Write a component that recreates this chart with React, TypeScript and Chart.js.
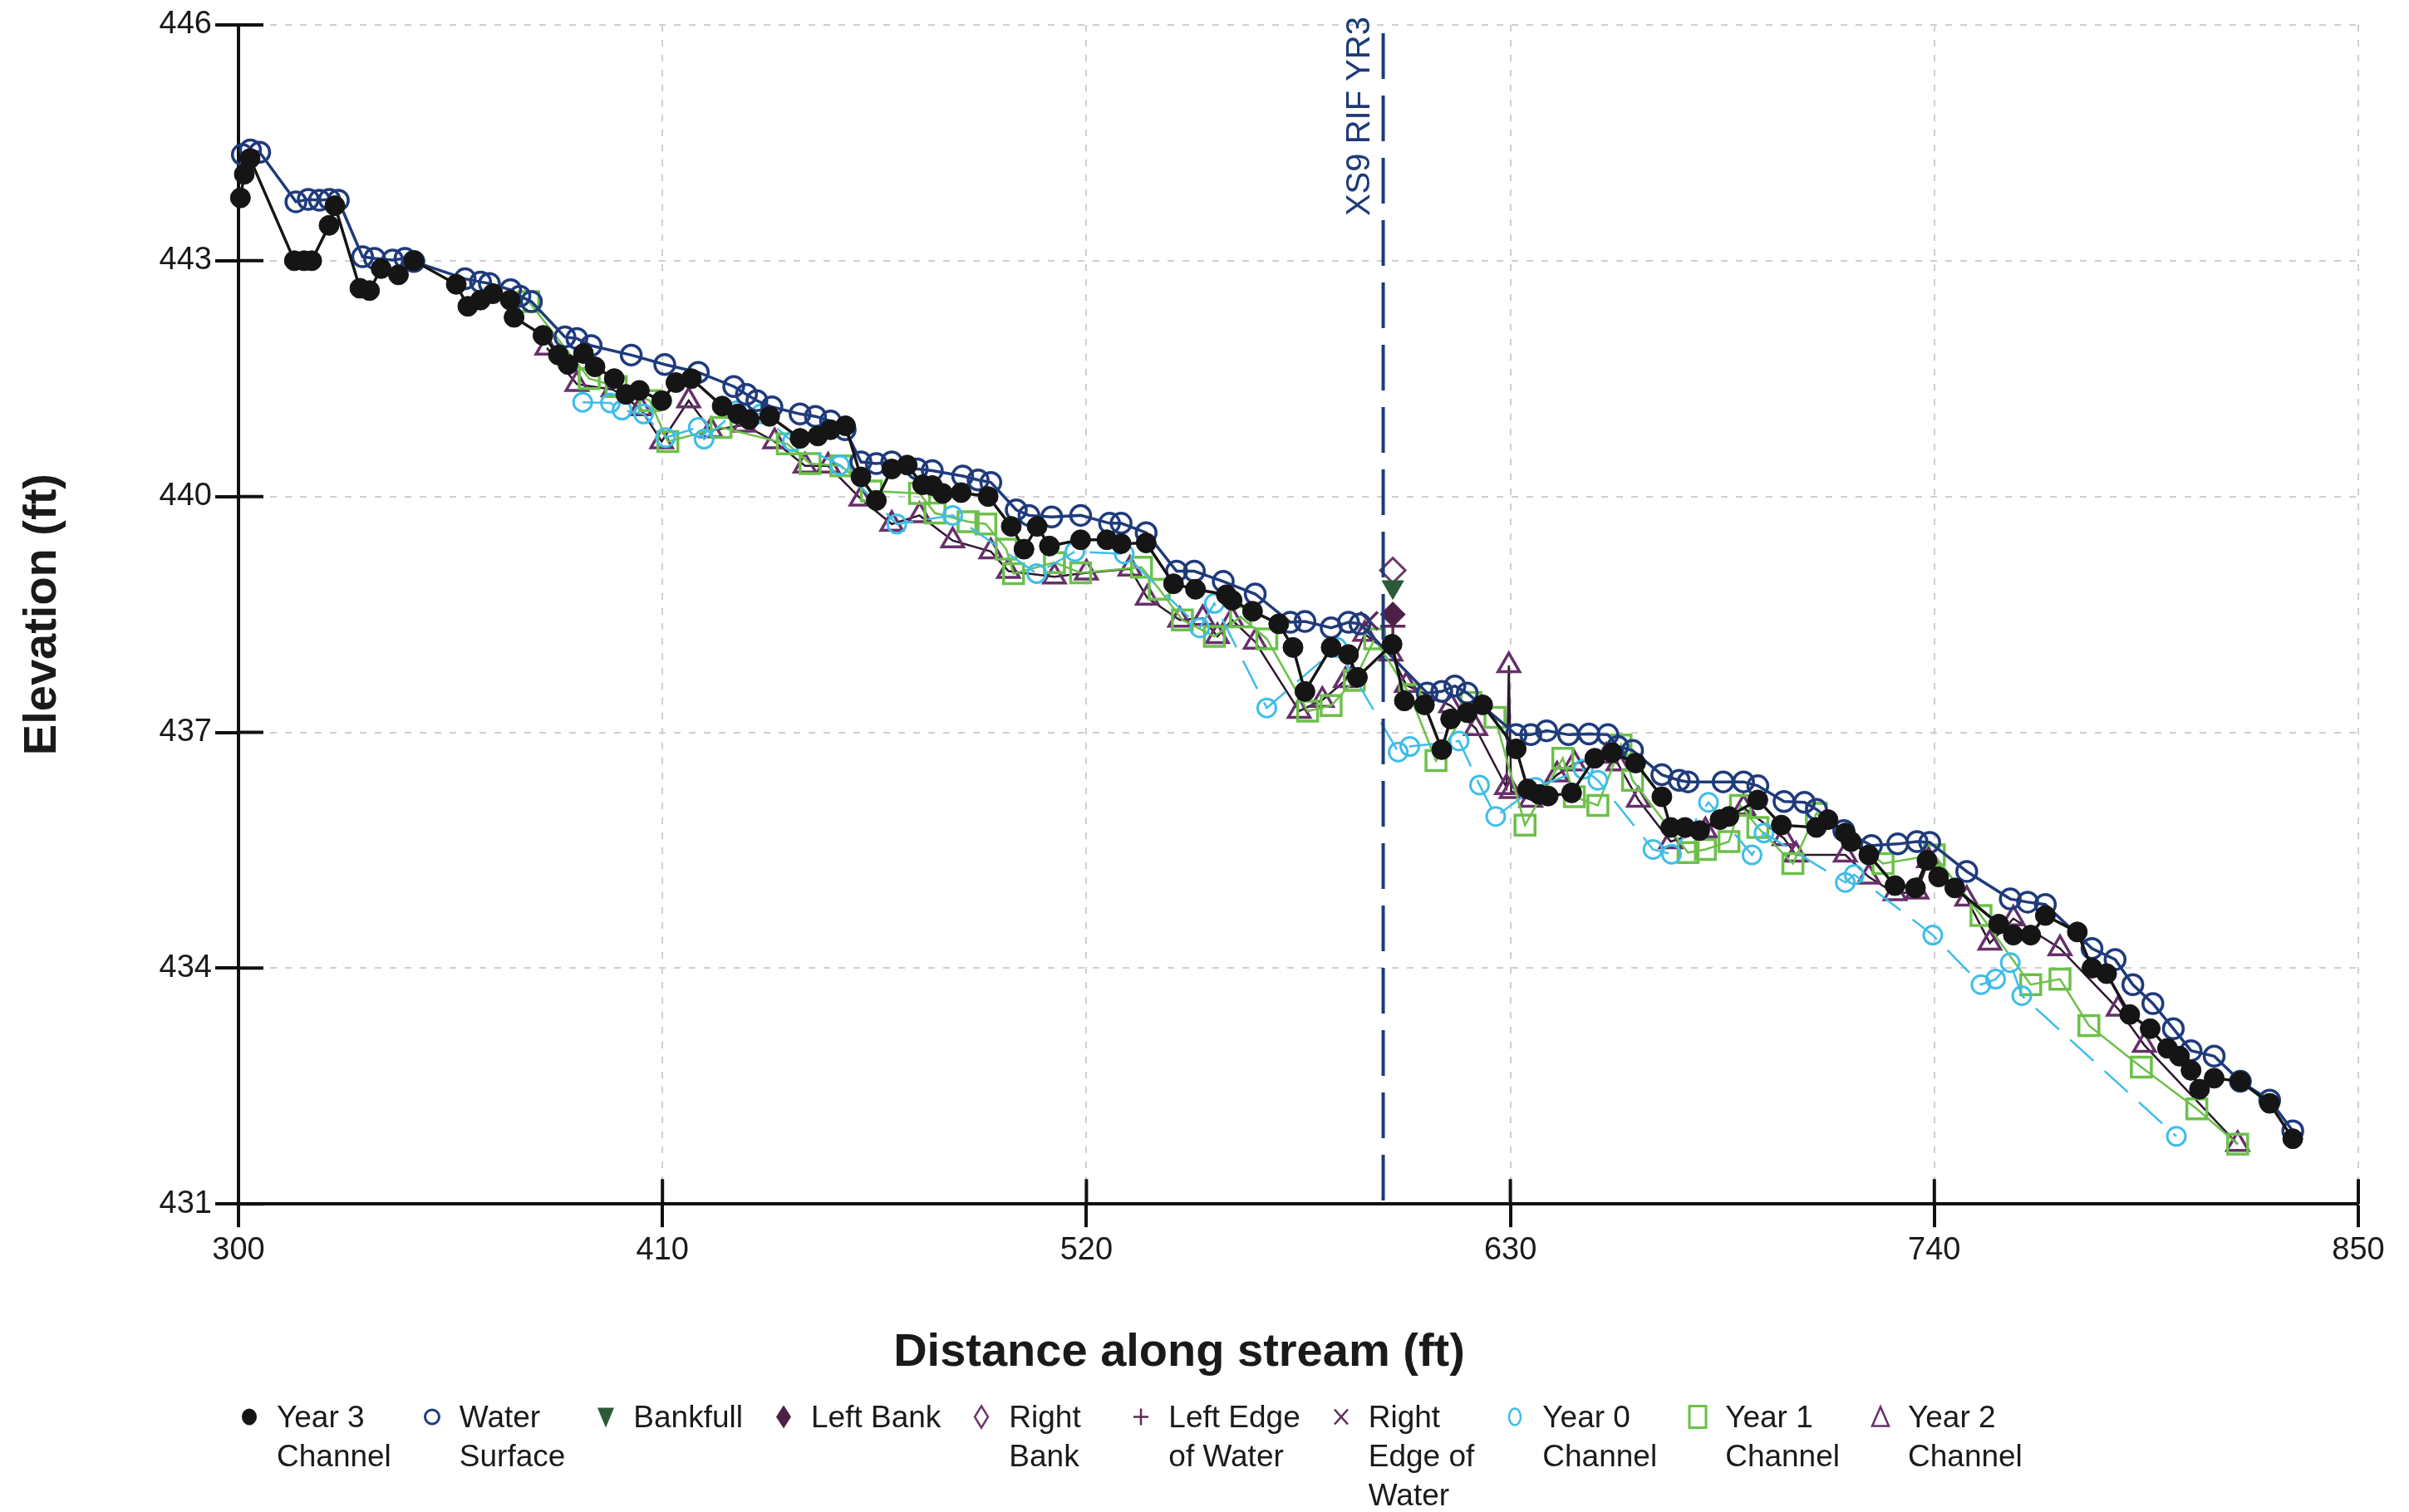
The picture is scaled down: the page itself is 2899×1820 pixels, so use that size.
import React, { useEffect, useRef } from "react";
import { Chart, registerables } from "chart.js";

Chart.register(...registerables);

const FONT = '"Liberation Sans", Arial, Helvetica, sans-serif';

// ---------- axis ----------
const X_MIN = 300;
const X_MAX = 850;
const X_STEP = 110;
const Y_MIN = 431;
const Y_MAX = 446;
const Y_STEP = 3;
const X_TITLE = "Distance along stream (ft)";
const Y_TITLE = "Elevation (ft)";

// ---------- cross-section marker ----------
const XS_STATION = 597;
const XS_LABEL = "XS9 RIF YR3";

// ---------- series (distance ft, elevation ft) ----------
const year3Channel: [number, number][] = [
  [300.5, 443.8], [301.5, 444.1], [303, 444.3], [314.5, 443.0], [317, 443.0], [319, 443.0],
  [323.5, 443.45], [325, 443.7], [331.5, 442.65], [334, 442.62], [337, 442.9], [341.5, 442.82],
  [345.5, 443.0], [356.5, 442.7], [359.5, 442.42], [362.8, 442.5], [366, 442.58], [370.5, 442.5],
  [371.5, 442.28], [379, 442.05], [383, 441.8], [385.5, 441.68], [389.5, 441.82], [392.5, 441.65],
  [397.5, 441.5], [400.5, 441.3], [404, 441.35], [409.8, 441.22], [413.5, 441.45], [417.5, 441.5],
  [425.5, 441.15], [429.5, 441.05], [432.5, 440.98], [437.8, 441.02], [445.7, 440.74], [450.3, 440.77],
  [453.6, 440.85], [457.5, 440.9], [461.5, 440.25], [465.5, 439.95], [469.5, 440.35], [473.5, 440.4],
  [477.5, 440.15], [480, 440.14], [482.7, 440.04], [487.5, 440.05], [494.5, 440.0], [500.5, 439.62],
  [503.8, 439.33], [507.2, 439.62], [510.4, 439.37], [518.5, 439.45], [525.3, 439.45], [529, 439.4],
  [535.5, 439.41], [542.6, 438.89], [548.3, 438.82], [556.3, 438.75], [557.8, 438.68], [563.1, 438.54],
  [569.9, 438.38], [573.6, 438.08], [576.7, 437.52], [583.5, 438.08], [588, 437.99], [590.3, 437.7],
  [599.3, 438.12], [602.5, 437.4], [607.7, 437.35], [612.2, 436.78], [614.5, 437.17], [618.8, 437.25],
  [622.8, 437.35], [631.5, 436.79], [634.5, 436.28], [637.5, 436.21], [639.8, 436.19], [645.9, 436.23],
  [651.9, 436.67], [656.4, 436.74], [662.5, 436.61], [669.3, 436.18], [671.6, 435.79], [675.3, 435.79],
  [679.1, 435.75], [684.4, 435.89], [686.7, 435.93], [694.2, 436.14], [700.3, 435.82], [709.4, 435.79],
  [712.4, 435.89], [716.9, 435.72], [718.4, 435.61], [723, 435.44], [729.8, 435.05], [735.1, 435.02],
  [738.1, 435.37], [741.1, 435.16], [745.3, 435.02], [756.7, 434.56], [760.5, 434.42], [765, 434.42],
  [768.8, 434.67], [777.1, 434.46], [780.9, 434.0], [784.7, 433.93], [790.7, 433.41], [796, 433.23],
  [800.5, 432.98], [803.6, 432.88], [806.6, 432.7], [808.8, 432.46], [812.6, 432.6], [819.4, 432.56],
  [827, 432.28], [833, 431.83],
];

const waterSurface: [number, number][] = [
  [301, 444.35], [303.1, 444.41], [305.5, 444.38], [314.9, 443.75], [318.1, 443.78], [321, 443.77],
  [323.6, 443.78], [325.9, 443.77], [332.2, 443.05], [335.3, 443.03], [340, 443.01], [343.2, 443.03],
  [345.5, 442.99], [358.8, 442.77], [362.8, 442.73], [365.1, 442.71], [370.6, 442.63], [373, 442.55],
  [376, 442.48], [384.7, 442.03], [387.8, 442.01], [391.5, 441.92], [401.9, 441.8], [410.6, 441.68],
  [419.3, 441.58], [428.5, 441.4], [431.8, 441.3], [434.5, 441.22], [438.4, 441.14], [445.7, 441.05],
  [449.7, 441.02], [453.6, 440.96], [457.4, 440.85], [461.5, 440.44], [465.5, 440.42], [469.5, 440.44],
  [476.1, 440.35], [480, 440.33], [487.9, 440.26], [491.9, 440.21], [495.2, 440.18], [501.8, 439.83],
  [505.1, 439.76], [511, 439.74], [518.5, 439.76], [526, 439.66], [529, 439.66], [535.5, 439.54],
  [543.4, 439.05], [548, 439.05], [555.5, 438.92], [563.8, 438.76], [572.9, 438.4], [576.7, 438.41],
  [583.5, 438.33], [588, 438.4], [591, 438.38], [608.4, 437.5], [612.2, 437.52], [615.6, 437.59],
  [618.8, 437.5], [631.5, 436.97], [635.3, 436.97], [639.4, 437.02], [645.1, 436.97], [650.4, 436.98],
  [655.3, 436.97], [657.9, 436.82], [661.7, 436.77], [669.3, 436.46], [673.8, 436.39], [676.1, 436.37],
  [685.2, 436.37], [690.5, 436.37], [694.2, 436.32], [701, 436.12], [706.3, 436.11], [709.4, 436.02],
  [716.5, 435.75], [723.7, 435.56], [730.5, 435.58], [735.5, 435.61], [738.8, 435.6], [748.4, 435.23],
  [759.7, 434.88], [764.2, 434.84], [768.8, 434.81], [780.9, 434.25], [786.9, 434.11], [791.5, 433.79],
  [796.7, 433.55], [802, 433.23], [806.6, 432.95], [812.6, 432.88], [819.4, 432.56], [827, 432.32],
  [833, 431.93],
];

const bankfull: [number, number][] = [[599.5, 438.85]];
const leftBank: [number, number][] = [[599.5, 438.5]];
const rightBank: [number, number][] = [[599.5, 439.06]];
const leftEdgeOfWater: [number, number][] = [[599.5, 438.35]];
const rightEdgeOfWater: [number, number][] = [[593.3, 438.42]];

const year0Channel: [number, number][] = [
  [389.3, 441.2], [396.5, 441.19], [399.5, 441.1], [405.1, 441.05], [410.8, 440.75], [419.3, 440.88],
  [420.8, 440.73], [429.2, 441.09], [435.5, 441.05], [443.7, 440.7], [456, 440.4], [470.8, 439.65],
  [485.3, 439.76], [507.1, 439.02], [517, 439.3], [529.8, 439.27], [549.4, 438.33], [553.2, 438.64],
  [566.8, 437.31], [585, 438.08], [600.9, 436.75], [603.9, 436.82], [616.7, 436.89], [622, 436.33],
  [626.2, 435.93], [636.5, 436.3], [648.9, 436.53], [652.7, 436.39], [667, 435.51], [671.8, 435.45],
  [681.4, 436.11], [692.7, 435.44], [695.8, 435.72], [716.9, 435.09], [719.2, 435.19], [739.6, 434.42],
  [752.1, 433.79], [755.9, 433.86], [759.7, 434.07], [762.7, 433.65], [802.8, 431.86],
];

const year1Channel: [number, number][] = [
  [375.3, 442.48], [391, 441.5], [398, 441.4], [406.7, 441.22], [411.4, 440.7], [425.2, 440.88],
  [442.4, 440.67], [448.3, 440.42], [456.3, 440.39], [464.2, 440.07], [476.7, 440.04], [480.7, 439.79],
  [489.3, 439.68], [493.9, 439.65], [499.2, 439.33], [501.1, 439.02], [511.7, 439.16], [518.5, 439.03],
  [534.3, 439.1], [538.9, 438.82], [544.9, 438.43], [553.2, 438.22], [560, 438.47], [566.8, 438.19],
  [577.4, 437.27], [583.5, 437.34], [589.5, 437.66], [594.8, 438.19], [603.9, 437.48], [610.7, 436.64],
  [619.8, 437.38], [626, 437.19], [633.8, 435.82], [643.6, 436.67], [646.6, 436.18], [652.7, 436.07],
  [658.7, 436.84], [661.7, 436.39], [676.1, 435.47], [680.6, 435.51], [686.7, 435.61], [689.7, 436.07],
  [694.2, 435.79], [703.3, 435.33], [709.4, 435.97], [726.7, 435.33], [740, 435.44], [752.1, 434.67],
  [765, 433.79], [772.6, 433.86], [780.1, 433.27], [793.7, 432.74], [808.1, 432.21], [818.7, 431.76],
];

const year2Channel: [number, number][] = [
  [380, 441.89], [387.8, 441.43], [397.2, 441.36], [404.3, 441.12], [409.8, 440.7], [416.8, 441.22],
  [422.6, 440.84], [431.2, 440.91], [439.1, 440.7], [447, 440.39], [453, 440.39], [461.5, 439.97],
  [469.5, 439.65], [476.7, 439.76], [485.3, 439.44], [495.2, 439.3], [499.8, 439.05], [511.7, 438.98],
  [520, 439.03], [531.3, 439.08], [535.8, 438.71], [544.2, 438.43], [550.2, 438.45], [554, 438.22],
  [557.8, 438.43], [563.8, 438.15], [575.2, 437.27], [581.2, 437.41], [587.2, 437.66], [592.2, 438.25],
  [599, 438.0], [603, 437.6], [614.5, 437.34], [621, 437.05], [629, 436.3], [629.6, 437.85],
  [630.2, 436.25], [635.3, 436.14], [642.1, 436.46], [646.6, 436.6], [654.9, 436.7], [657.9, 436.6],
  [663.2, 436.14], [671.6, 435.61], [680.6, 435.75], [690.5, 436.04], [701, 435.65], [704.1, 435.44],
  [716.9, 435.44], [723, 435.16], [729.8, 434.95], [735.5, 434.97], [738.5, 435.37], [748.4, 434.88],
  [754.4, 434.32], [760.5, 434.63], [772.6, 434.25], [787.7, 433.48], [794.5, 433.02], [818.7, 431.76],
];

// ---------- series styling ----------
type Kind = "dot" | "ring" | "triDown" | "diamond" | "diamondOpen" | "plus" | "cross" | "ringLight" | "square" | "triangle";
interface SeriesDef {
  lines: string[];
  data: [number, number][];
  color: string;
  lineColor?: string;
  kind: Kind;
  showLine: boolean;
  dash?: number[];
}

const SERIES: SeriesDef[] = [
  { lines: ["Year 3", "Channel"], data: year3Channel, color: "#151515", kind: "dot", showLine: true },
  { lines: ["Water", "Surface"], data: waterSurface, color: "#1f3b7c", kind: "ring", showLine: true },
  { lines: ["Bankfull"], data: bankfull, color: "#2c5a38", kind: "triDown", showLine: false },
  { lines: ["Left Bank"], data: leftBank, color: "#4d2145", kind: "diamond", showLine: false },
  { lines: ["Right", "Bank"], data: rightBank, color: "#6e3a6c", kind: "diamondOpen", showLine: false },
  { lines: ["Left Edge", "of Water"], data: leftEdgeOfWater, color: "#5c2a58", kind: "plus", showLine: false },
  { lines: ["Right", "Edge of", "Water"], data: rightEdgeOfWater, color: "#5c2a58", kind: "cross", showLine: false },
  { lines: ["Year 0", "Channel"], data: year0Channel, color: "#3fbde9", kind: "ringLight", showLine: true, dash: [38, 18] },
  { lines: ["Year 1", "Channel"], data: year1Channel, color: "#6cc04a", kind: "square", showLine: true },
  { lines: ["Year 2", "Channel"], data: year2Channel, color: "#66306a", lineColor: "#2e1830", kind: "triangle", showLine: true },
];

function pointStyleFor(kind: Kind): { style: string; radius: number; rotation: number; filled: boolean; bw: number } {
  switch (kind) {
    case "dot": return { style: "circle", radius: 12, rotation: 0, filled: true, bw: 1 };
    case "ring": return { style: "circle", radius: 12, rotation: 0, filled: false, bw: 3.5 };
    case "triDown": return { style: "triangle", radius: 15, rotation: 180, filled: true, bw: 1 };
    case "diamond": return { style: "rectRot", radius: 15, rotation: 0, filled: true, bw: 1 };
    case "diamondOpen": return { style: "rectRot", radius: 15, rotation: 0, filled: false, bw: 3 };
    case "plus": return { style: "cross", radius: 15, rotation: 0, filled: false, bw: 3.5 };
    case "cross": return { style: "crossRot", radius: 15, rotation: 0, filled: false, bw: 3.5 };
    case "ringLight": return { style: "circle", radius: 11, rotation: 0, filled: false, bw: 3 };
    case "square": return { style: "rect", radius: 17, rotation: 0, filled: false, bw: 3.5 };
    case "triangle": return { style: "triangle", radius: 15, rotation: 0, filled: false, bw: 3.5 };
  }
}

function Marker({ kind, color }: { kind: Kind; color: string }) {
  const c = 23.5;
  let shape: React.ReactNode = null;
  switch (kind) {
    case "dot": shape = <ellipse cx={14} cy={c} rx={9} ry={10} fill={color} />; break;
    case "ring": shape = <circle cx={14} cy={c} r={8.5} fill="none" stroke={color} strokeWidth={3} />; break;
    case "triDown": shape = <polygon points={`4,${c - 11} 24,${c - 11} 14,${c + 13}`} fill={color} />; break;
    case "diamond": shape = <polygon points={`14,${c - 14} 23,${c} 14,${c + 14} 5,${c}`} fill={color} />; break;
    case "diamondOpen": shape = <polygon points={`14,${c - 13} 22,${c} 14,${c + 13} 6,${c}`} fill="none" stroke={color} strokeWidth={2.5} />; break;
    case "plus": shape = <g stroke={color} strokeWidth={2.5}><line x1={5} y1={c} x2={23} y2={c} /><line x1={14} y1={c - 10} x2={14} y2={c + 10} /></g>; break;
    case "cross": shape = <g stroke={color} strokeWidth={2.5}><line x1={6} y1={c - 9} x2={22} y2={c + 9} /><line x1={22} y1={c - 9} x2={6} y2={c + 9} /></g>; break;
    case "ringLight": shape = <ellipse cx={14} cy={c} rx={7} ry={10} fill="none" stroke={color} strokeWidth={2.5} />; break;
    case "square": shape = <rect x={4} y={c - 13} width={20} height={26} fill="none" stroke={color} strokeWidth={3} />; break;
    case "triangle": shape = <polygon points={`14,${c - 12} 24,${c + 11} 4,${c + 11}`} fill="none" stroke={color} strokeWidth={2.5} />; break;
  }
  return (
    <svg width={28} height={47} style={{ flex: "0 0 auto", display: "block" }}>
      {shape}
    </svg>
  );
}

const innerTicks = {
  id: "innerTicks",
  beforeDatasetsDraw(chart: any) {
    const { ctx, chartArea, scales } = chart;
    const x = scales.x;
    const y = scales.y;
    ctx.save();
    ctx.strokeStyle = "#111";
    ctx.lineWidth = 4;
    ctx.setLineDash([]);
    ctx.beginPath();
    x.ticks.forEach((t: any) => {
      const px = x.getPixelForValue(t.value);
      ctx.moveTo(px, chartArea.bottom);
      ctx.lineTo(px, chartArea.bottom - 30);
    });
    y.ticks.forEach((t: any) => {
      const py = y.getPixelForValue(t.value);
      ctx.moveTo(chartArea.left, py);
      ctx.lineTo(chartArea.left + 30, py);
    });
    ctx.stroke();
    ctx.restore();
  },
};

const xsLine = {
  id: "xsLine",
  afterDatasetsDraw(chart: any) {
    const { ctx, chartArea, scales } = chart;
    const px = scales.x.getPixelForValue(XS_STATION);
    ctx.save();
    ctx.strokeStyle = "#1d3a78";
    ctx.lineWidth = 4;
    ctx.setLineDash([55, 20]);
    ctx.beginPath();
    ctx.moveTo(px, chartArea.top + 10);
    ctx.lineTo(px, chartArea.bottom);
    ctx.stroke();
    ctx.setLineDash([]);
    ctx.translate(px - 28, chartArea.top - 10);
    ctx.rotate(-Math.PI / 2);
    ctx.font = `40px ${FONT}`;
    ctx.fillStyle = "#1d3a78";
    ctx.textAlign = "right";
    ctx.textBaseline = "middle";
    ctx.fillText(XS_LABEL, 0, 0);
    ctx.restore();
  },
};

export default function App() {
  const canvasRef = useRef<HTMLCanvasElement | null>(null);

  useEffect(() => {
    if (!canvasRef.current) return;
    const datasets = SERIES.map((s) => {
      const p = pointStyleFor(s.kind);
      return {
        label: s.lines.join(" "),
        data: s.data.map(([x, y]) => ({ x, y })),
        showLine: s.showLine,
        borderColor: s.lineColor || s.color,
        borderWidth: s.kind === "dot" || s.kind === "ring" ? 3.5 : 2.5,
        borderDash: s.dash || [],
        pointStyle: p.style,
        pointRadius: p.radius,
        pointRotation: p.rotation,
        pointBorderColor: s.color,
        pointBackgroundColor: p.filled ? s.color : "rgba(255,255,255,0)",
        pointBorderWidth: p.bw,
        tension: 0,
        clip: false as any,
      };
    });

    const tickFont = { family: FONT, size: 38 };
    const chart = new Chart(canvasRef.current, {
      type: "scatter",
      data: { datasets } as any,
      plugins: [innerTicks, xsLine],
      options: {
        responsive: false,
        animation: false,
        layout: { padding: { top: 30, right: 61, bottom: 158, left: 0 } },
        plugins: {
          legend: { display: false },
          tooltip: { enabled: false },
          title: {
            display: true,
            position: "bottom",
            text: X_TITLE,
            color: "#1a1a1a",
            font: { family: FONT, size: 56, weight: "bold" },
            padding: { top: 60, bottom: 0 },
          },
        },
        scales: {
          x: {
            type: "linear",
            min: X_MIN,
            max: X_MAX,
            ticks: { stepSize: X_STEP, color: "#1a1a1a", font: tickFont, padding: 6, maxRotation: 0 },
            grid: {
              color: "#cfcfcf",
              lineWidth: 2,
              drawTicks: true,
              tickLength: 28,
              tickColor: "#111",
              tickWidth: 4,
              tickBorderDash: [],
            },
            border: { display: true, color: "#111", width: 4, dash: [8, 10] },
            afterFit: (s: any) => {
              s.paddingLeft = 0;
              s.paddingRight = 0;
            },
          },
          y: {
            type: "linear",
            min: Y_MIN,
            max: Y_MAX,
            ticks: { stepSize: Y_STEP, color: "#1a1a1a", font: tickFont, padding: 4 },
            grid: {
              color: "#cfcfcf",
              lineWidth: 2,
              drawTicks: true,
              tickLength: 28,
              tickColor: "#111",
              tickWidth: 4,
              tickBorderDash: [],
            },
            border: { display: true, color: "#111", width: 4, dash: [8, 10] },
            title: {
              display: true,
              text: Y_TITLE,
              color: "#1a1a1a",
              font: { family: FONT, size: 56, weight: "bold" },
              padding: { top: 18, bottom: 0 },
            },
            afterFit: (s: any) => {
              s.width = 287;
              s.paddingTop = 0;
              s.paddingBottom = 0;
            },
          },
        },
      } as any,
    });
    return () => chart.destroy();
  }, []);

  return (
    <div style={{ position: "fixed", left: 0, top: 0, width: 2899, height: 1820, background: "#fff", overflow: "hidden" }}>
      <canvas ref={canvasRef} width={2899} height={1820} style={{ display: "block", width: 2899, height: 1820 }} />
      <div
        style={{
          position: "absolute",
          left: 286,
          top: 1682,
          display: "flex",
          alignItems: "flex-start",
          gap: 35,
          fontFamily: FONT,
          fontSize: 37,
          lineHeight: "47px",
          color: "#1a1a1a",
          whiteSpace: "nowrap",
        }}
      >
        {SERIES.map((s) => (
          <div key={s.lines.join(" ")} style={{ display: "flex", alignItems: "flex-start" }}>
            <Marker kind={s.kind} color={s.color} />
            <div style={{ marginLeft: 19, minWidth: 110 }}>
              {s.lines.map((l) => (
                <div key={l}>{l}</div>
              ))}
            </div>
          </div>
        ))}
      </div>
    </div>
  );
}
